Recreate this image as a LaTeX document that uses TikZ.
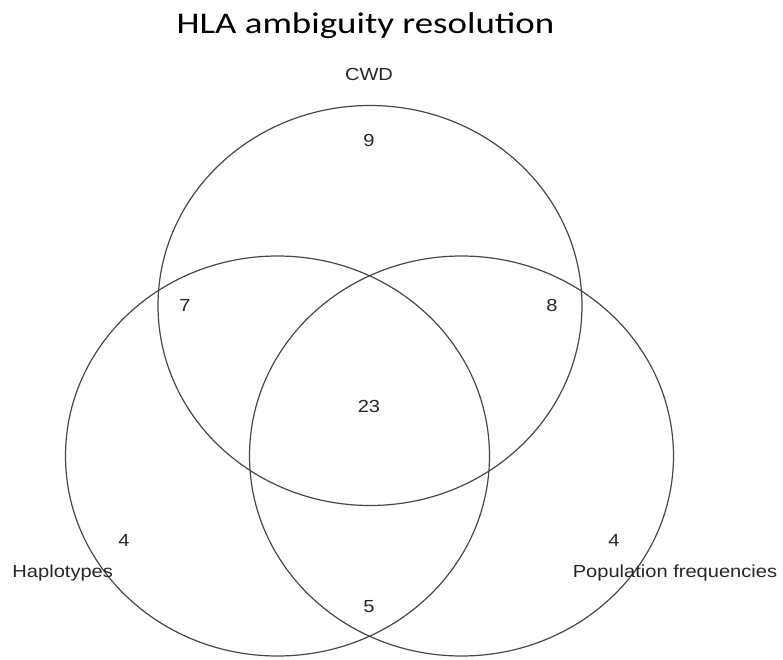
\documentclass[tikz,border=0pt]{standalone}
\usepackage{fontspec}
\setmainfont{Liberation Sans}
\newfontfamily\titlefont{Carlito}
\tikzset{
  vennline/.style={line width=0.9pt, draw=black!72},
  setlabel/.style={inner sep=0pt, text=black!85, font=\fontsize{13.1}{15}\selectfont},
  countlabel/.style={inner sep=0pt, text=black!85, font=\fontsize{13.1}{15}\selectfont}
}
\newcommand{\wide}[1]{\scalebox{1.15}[1]{#1}}
\begin{document}
\begin{tikzpicture}[x=0.75pt, y=-0.75pt]
                \useasboundingbox (0,0) rectangle (783,660);
                
                % Title
                \node [inner sep=0pt, font=\titlefont\fontsize{22.5}{26}\selectfont] (title) at (365.500000,25.500000) {\scalebox{1.23}[1]{HLA ambiguity resolution}};%
                
                % Drawing set CWD
                \draw [vennline] (370.000000,305.500000) ellipse (212.000000 and 200.000000);%
                
                % Drawing set Haplotypes
                \draw [vennline] (277.500000,456.000000) ellipse (212.000000 and 200.000000);%
                
                % Drawing set Population frequencies
                \draw [vennline] (461.500000,456.000000) ellipse (212.000000 and 200.000000);%
                
                % Set names
                \node [setlabel] (cwd) at (369.000000,74.000000) {\wide{CWD}};%
                \node [setlabel] (haplo) at (62.700000,572.500000) {\wide{Haplotypes}};%
                \node [setlabel] (popfreq) at (675.000000,572.500000) {\wide{Population frequencies}};%
                
                % Counts in each region
                \node [countlabel] (nc) at (369.000000,140.000000) {\wide{9}};%
                \node [countlabel] (nch) at (185.000000,305.500000) {\wide{7}};%
                \node [countlabel] (ncp) at (552.000000,305.500000) {\wide{8}};%
                \node [countlabel] (nall) at (369.000000,406.000000) {\wide{23}};%
                \node [countlabel] (nh) at (124.000000,540.000000) {\wide{4}};%
                \node [countlabel] (np) at (614.000000,540.000000) {\wide{4}};%
                \node [countlabel] (nhp) at (369.000000,606.500000) {\wide{5}};%
\end{tikzpicture}
\end{document}
